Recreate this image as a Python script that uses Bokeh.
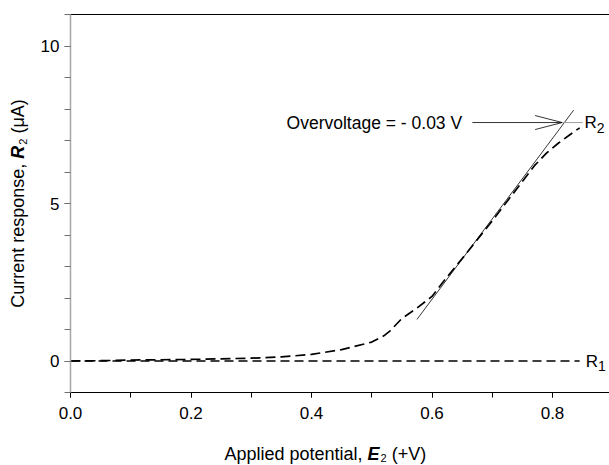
import math
from bokeh.plotting import figure
from bokeh.layouts import row, column
from bokeh.models import (Label, LinearAxis, FixedTicker, SingleIntervalTicker,
                          PrintfTickFormatter, Range1d)
from bokeh.embed import file_html
from bokeh.resources import INLINE

# ---------------- data ----------------
potential = [0.00, 0.05, 0.10, 0.15, 0.20, 0.25, 0.30, 0.35, 0.40, 0.45,
             0.50, 0.52, 0.53, 0.55, 0.575, 0.60, 0.62, 0.65, 0.70, 0.75,
             0.77, 0.79, 0.81, 0.83, 0.845]
r2_response = [0.00, 0.01, 0.03, 0.04, 0.05, 0.07, 0.09, 0.13, 0.21, 0.36,
               0.60, 0.80, 0.95, 1.35, 1.68, 2.05, 2.55, 3.25, 4.45, 5.70,
               6.20, 6.60, 6.92, 7.20, 7.40]
r1_potential = [0.00, 0.20, 0.40, 0.60, 0.845]
r1_response = [0.00, 0.00, 0.00, 0.00, 0.00]

tangent_potential = [0.575, 0.835]
tangent_response = [1.32, 7.96]

arrow_start = 0.667
arrow_tip = 0.816
arrow_level = 7.57
leader_end = 0.850
annotation_text = "Overvoltage = - 0.03 V"
annotation_x = 0.650

x_ticks_interval = 0.2
y_ticks_interval = 5

# ---------------- layout ----------------
TOTAL_W, TOTAL_H = 609, 465
WY = 30                  # width of the y-label strip
HX = 33                  # height of the x-label strip
W = TOTAL_W - WY         # main figure width
HM = TOTAL_H - HX        # main figure height
FL, FT, FB = 40, 14, 40
x0, x1 = 0.0, 0.8946
y0, y1 = -1.0, 11.0
frame_w = W - FL
frame_h = HM - FT - FB
pxx = frame_w / (x1 - x0)
pxy = frame_h / (y1 - y0)

FONT = "Liberation Sans"
BASE_FIX = 6   # empirical shift of the alphabetic baseline of Label

# Arial / Liberation Sans advance widths (per 1000 em)
AW = {' ': 278, '(': 333, ')': 333, '+': 584, ',': 278, '-': 333, '.': 278,
      '=': 584, 'A': 667, 'C': 722, 'E': 667, 'O': 778, 'R': 722, 'V': 667,
      'a': 556, 'd': 556, 'e': 556, 'g': 556, 'i': 222, 'l': 222, 'n': 556,
      'o': 556, 'p': 556, 'r': 333, 's': 500, 't': 278, 'u': 556, 'v': 500,
      'μ': 576}


def tw(s, size):
    return sum(AW.get(c, 556) for c in s) * size / 1000.0


def blank(width, height):
    f = figure(width=width, height=height, output_backend="svg", toolbar_location=None,
               x_axis_location=None, y_axis_location=None,
               min_border_left=0, min_border_right=0, min_border_top=0, min_border_bottom=0)
    f.outline_line_color = None
    f.background_fill_color = "white"
    f.border_fill_color = "white"
    f.grid.visible = False
    return f


p = figure(width=W, height=HM, x_range=Range1d(x0, x1), y_range=Range1d(y0, y1),
           output_backend="svg", toolbar_location=None,
           min_border_left=FL, min_border_right=0, min_border_top=FT,
           min_border_bottom=FB)
p.outline_line_color = None
p.xgrid.visible = False
p.ygrid.visible = False
p.background_fill_color = "white"
p.border_fill_color = "white"

# axes
p.xaxis.ticker = SingleIntervalTicker(interval=x_ticks_interval, num_minor_ticks=2)
p.xaxis.formatter = PrintfTickFormatter(format="%.1f")
p.yaxis.ticker = SingleIntervalTicker(interval=y_ticks_interval, num_minor_ticks=5)
p.yaxis.formatter = PrintfTickFormatter(format="%d")

for ax in (p.xaxis[0], p.yaxis[0]):
    ax.major_label_text_font = FONT
    ax.major_label_text_font_size = "17px"
    ax.major_label_text_color = "black"
    ax.major_tick_in = 0
    ax.minor_tick_in = 0
    ax.axis_label = None

p.xaxis.axis_line_color = "black"
p.xaxis.major_tick_line_color = "black"
p.xaxis.minor_tick_line_color = "black"
p.xaxis.major_tick_out = 5
p.xaxis.minor_tick_out = 5
p.xaxis.major_label_standoff = 9

p.yaxis.axis_line_color = "#a6a6a6"
p.yaxis.axis_line_width = 1.5
p.yaxis.major_tick_line_color = "#707070"
p.yaxis.minor_tick_line_color = "#707070"
p.yaxis.major_tick_out = 6
p.yaxis.minor_tick_out = 6
p.yaxis.major_label_standoff = 5

# top border: a bare axis above the frame
top_axis = LinearAxis(ticker=FixedTicker(ticks=[]), axis_line_color="black",
                      axis_line_width=1, major_tick_line_color=None,
                      minor_tick_line_color=None, major_label_text_font_size="0px",
                      major_label_standoff=0, major_tick_out=0, minor_tick_out=0)
p.add_layout(top_axis, "above")

# curves
p.line(r1_potential, r1_response, line_color="black", line_width=1.4, line_dash="9 5")
p.line(potential, r2_response, line_color="black", line_width=1.7, line_dash="10 5")
p.line(tangent_potential, tangent_response, line_color="black", line_width=0.8)

# arrow
p.line([arrow_start, arrow_tip], [arrow_level, arrow_level], line_color="black", line_width=0.8)
wing_dx = 27 / pxx
wing_dy = 7 / pxy
p.segment(x0=[arrow_tip, arrow_tip], y0=[arrow_level, arrow_level],
          x1=[arrow_tip - wing_dx, arrow_tip - wing_dx],
          y1=[arrow_level + wing_dy, arrow_level - wing_dy],
          line_color="black", line_width=0.8)
p.line([arrow_tip, leader_end], [arrow_level, arrow_level], line_color="#a0a0a0", line_width=1)

p.add_layout(Label(x=annotation_x, y=arrow_level, text=annotation_text,
                   text_font=FONT, text_font_size="17.5px", text_color="black",
                   text_align="right", text_baseline="middle"))

# series labels
for lx, ly, sub in ((leader_end + 0.003, arrow_level, "2"), (0.855, 0.0, "1")):
    p.add_layout(Label(x=lx, y=ly, text="R", text_font=FONT, text_font_size="17px",
                       text_align="left", text_baseline="middle", text_color="black"))
    p.add_layout(Label(x=lx + tw("R", 17) / pxx, y=ly, y_offset=-5, text=sub,
                       text_font=FONT, text_font_size="14px", text_align="left",
                       text_baseline="middle", text_color="black"))

LS, SS = 18, 11

# x axis label strip: "Applied potential, E2 (+V)"
xlab = blank(TOTAL_W, HX)
xl_parts = [("Applied potential, ", "normal", LS, 0), ("E", "bold italic", LS, 0),
            ("2", "normal", SS, 4.5), (" (+V)", "normal", LS, 0)]
xl_total = sum(tw(t, s) for t, _, s, _ in xl_parts) + 1
xl_center = WY + FL + 0.423 * pxx
xl_base = 27 - BASE_FIX
cur = xl_center - xl_total / 2
for t, st, s, off in xl_parts:
    lead = tw(t[:len(t) - len(t.lstrip())], s)
    xlab.add_layout(Label(x=cur + lead, y=xl_base + off, x_units="canvas", y_units="canvas",
                          text=t.strip(), text_font=FONT, text_font_style=st,
                          text_font_size=f"{s}px", text_color="black",
                          text_align="left", text_baseline="alphabetic"))
    cur += tw(t, s) + (1 if t == "E" else 0)

# y axis label strip: "Current response, R2 (μA)" (rotated)
ylab = blank(WY, HM)
yl_parts = [("Current response, ", "normal", LS, 0), ("R", "bold italic", LS, 0),
            ("2", "normal", SS, 4.5), (" (μA)", "normal", LS, 0)]
yl_total = sum(tw(t, s) for t, _, s, _ in yl_parts) + 1
yl_center = FT + frame_h / 2          # measured from the top
yl_base = 23.5 - BASE_FIX
cur = yl_center + yl_total / 2        # lower end of the text
for t, st, s, off in yl_parts:
    lead = tw(t[:len(t) - len(t.lstrip())], s)
    ylab.add_layout(Label(x=yl_base + off, y=cur - lead, x_units="canvas", y_units="canvas",
                          angle=math.pi / 2, text=t.strip(), text_font=FONT,
                          text_font_style=st, text_font_size=f"{s}px", text_color="black",
                          text_align="left", text_baseline="alphabetic"))
    cur -= tw(t, s) + (1 if t == "R" else 0)

layout = column(row(ylab, p, spacing=0), xlab, spacing=0)

open("out.html", "w").write(file_html(layout, INLINE))
